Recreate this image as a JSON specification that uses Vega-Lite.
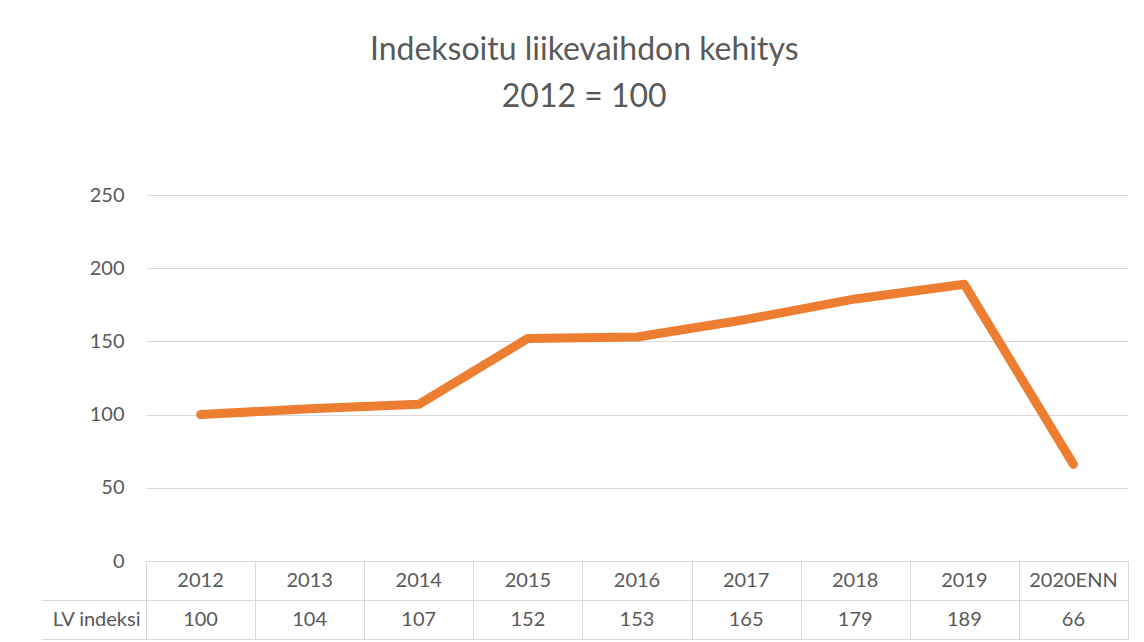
{
  "$schema": "https://vega.github.io/schema/vega-lite/v6.json",
  "background": "white",
  "padding": {"left": 40, "top": 34, "right": 12, "bottom": 0},
  "bounds": "flush",
  "title": {
    "text": ["Indeksoitu liikevaihdon kehitys", "2012 = 100"],
    "font": "Lato",
    "fontSize": 32,
    "fontWeight": "normal",
    "color": "#595959",
    "lineHeight": 47,
    "anchor": "middle",
    "frame": "bounds",
    "offset": 71
  },
  "data": {
    "values": [
      {"vuosi": "2012", "indeksi": 100},
      {"vuosi": "2013", "indeksi": 104},
      {"vuosi": "2014", "indeksi": 107},
      {"vuosi": "2015", "indeksi": 152},
      {"vuosi": "2016", "indeksi": 153},
      {"vuosi": "2017", "indeksi": 165},
      {"vuosi": "2018", "indeksi": 179},
      {"vuosi": "2019", "indeksi": 189},
      {"vuosi": "2020ENN", "indeksi": 66}
    ]
  },
  "spacing": 0,
  "vconcat": [
    {
      "width": 982,
      "height": 366,
      "mark": {"type": "line", "color": "#ED7D31", "strokeWidth": 9, "strokeCap": "round", "strokeJoin": "round"},
      "encoding": {
        "x": {
          "field": "vuosi",
          "type": "nominal",
          "sort": null,
          "scale": {"type": "band", "paddingInner": 0, "paddingOuter": 0},
          "axis": null
        },
        "y": {
          "field": "indeksi",
          "type": "quantitative",
          "scale": {"domain": [0, 250], "nice": false},
          "axis": {
            "title": null,
            "values": [0, 50, 100, 150, 200, 250],
            "domain": false,
            "ticks": false,
            "labelPadding": 22,
            "labelFont": "Lato",
            "labelFontSize": 20,
            "labelColor": "#595959",
            "gridColor": "#d9d9d9",
            "gridWidth": 1
          }
        }
      }
    },
    {
      "width": 982,
      "height": 78,
      "encoding": {
        "x": {
          "field": "vuosi",
          "type": "nominal",
          "sort": null,
          "scale": {"type": "band", "paddingInner": 0, "paddingOuter": 0},
          "axis": {
            "orient": "top",
            "title": null,
            "labels": false,
            "ticks": false,
            "domain": false,
            "grid": true,
            "tickBand": "extent",
            "gridColor": "#d9d9d9",
            "gridWidth": 1
          }
        }
      },
      "layer": [
        {
          "mark": {"type": "text", "font": "Lato", "fontSize": 20, "color": "#595959"},
          "encoding": {
            "y": {
              "datum": "vuosi",
              "type": "nominal",
              "scale": {"domain": ["vuosi", "LV indeksi"], "paddingInner": 0, "paddingOuter": 0},
              "axis": {
                "title": null,
                "domain": false,
                "grid": true,
                "tickBand": "extent",
                "gridColor": "#d9d9d9",
                "gridWidth": 1,
                "ticks": true,
                "tickSize": 105,
                "tickColor": "#d9d9d9",
                "tickOpacity": {"condition": {"test": "datum.extra", "value": 0}, "value": 1},
                "labelExpr": "datum.value === 'vuosi' ? '' : datum.value",
                "labelPadding": -99,
                "labelFont": "Lato",
                "labelFontSize": 20,
                "labelColor": "#595959"
              }
            },
            "text": {"field": "vuosi", "type": "nominal"}
          }
        },
        {
          "mark": {"type": "text", "font": "Lato", "fontSize": 20, "color": "#595959"},
          "encoding": {
            "y": {"datum": "LV indeksi", "type": "nominal"},
            "text": {"field": "indeksi", "type": "quantitative"}
          }
        }
      ]
    }
  ],
  "config": {"view": {"stroke": null}}
}
